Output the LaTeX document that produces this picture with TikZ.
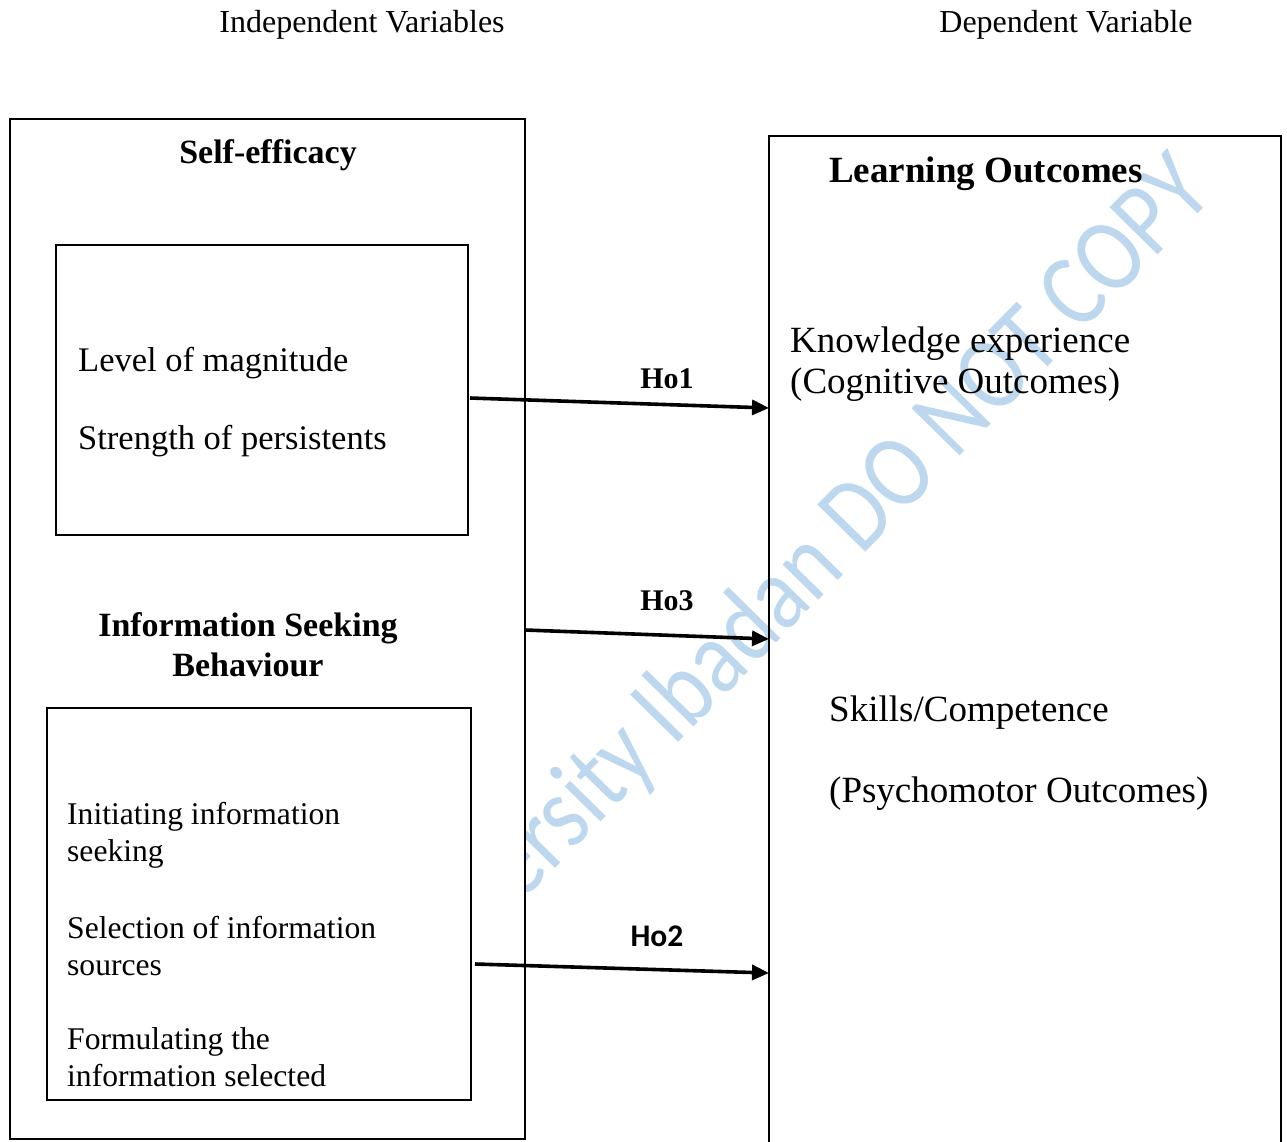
\documentclass[tikz,border=0pt]{standalone}
\usepackage{fontspec}
\setmainfont{Liberation Serif}
\newfontfamily\calfont{Carlito}
\usetikzlibrary{arrows.meta}
\definecolor{wmblue}{RGB}{189,215,238}
\newcommand\szTitle{\fontsize{32}{38}\selectfont}
\newcommand\szHead{\fontsize{34}{40}\selectfont\bfseries}
\newcommand\szHeadR{\fontsize{37}{43}\selectfont\bfseries}
\newcommand\szTop{\fontsize{34.5}{40}\selectfont}
\newcommand\szBot{\fontsize{31.6}{37}\selectfont}
\newcommand\szRight{\fontsize{37}{41}\selectfont}
\newcommand\szHo{\fontsize{30}{34}\selectfont\bfseries}
\newcommand\szHoSans{\calfont\fontsize{31.5}{36}\selectfont\bfseries}
\newcommand\szWm{\calfont\fontsize{89}{100}\selectfont}
\begin{document}
\begin{tikzpicture}[x=1pt,y=-1pt,
  box/.style={draw=black, line width=2pt, fill=white},
  arr/.style={line width=3.6pt, -{Triangle[length=17pt,width=15pt]}},
  txt/.style={inner sep=0pt, anchor=west, align=left},
  ctxt/.style={inner sep=0pt, anchor=center, align=center}]
\useasboundingbox (0,0) rectangle (1287,1141);
\clip (0,0) rectangle (1287,1141);
% watermark
\begin{scope}[shift={(520,904)}, rotate=45.5, yscale=1.18]
  \node[inner sep=0pt, anchor=base west, transform shape, text=wmblue, font=\szWm] (wmark) at (0,0) {ersity Ibadan DO NOT COPY};
\end{scope}
% titles
\node[ctxt, font=\szTitle] (indep) at (362,25) {Independent Variables};
\node[ctxt, font=\szTitle] (dep) at (1066,25) {Dependent Variable};
% left outer box
\draw[box] (10,119) rectangle (525,1139);
\node[ctxt, font=\szHead] (selfeff) at (268,155.5) {Self-efficacy};
% inner top box
\draw[box] (56,245) rectangle (468,535);
\node[txt, font=\szTop] (level) at (78,363.5) {Level of magnitude};
\node[txt, font=\szTop] (strength) at (78,441.5) {Strength of persistents};
% information seeking heading
\node[ctxt, font=\szHead] (isb) at (248,645) {Information Seeking\\Behaviour};
% inner bottom box
\draw[box] (47,708) rectangle (471,1100);
\node[txt, font=\szBot] (init) at (67,835) {Initiating information\\seeking};
\node[txt, font=\szBot] (selsrc) at (67,946) {Selection of information\\sources};
\node[txt, font=\szBot] (form) at (67,1057.5) {Formulating the\\information selected};
% right box (open at bottom)
\draw[line width=2pt] (769,1160) -- (769,136) -- (1281,136) -- (1281,1160);
\node[txt, font=\szHeadR] (lo) at (829,173.5) {Learning Outcomes};
\node[txt, font=\szRight] (know) at (790,364) {Knowledge experience\\(Cognitive Outcomes)};
\node[txt, font=\szRight] (skills) at (829,712.5) {Skills/Competence};
\node[txt, font=\szRight] (psycho) at (829,793.5) {(Psychomotor Outcomes)};
% connector end points
\coordinate (h1s) at (470,398);
\coordinate (h1e) at (769,408);
\coordinate (h3s) at (525,630);
\coordinate (h3e) at (769,639);
\coordinate (h2s) at (475,964);
\coordinate (h2e) at (769,973);
\draw[arr] (h1s) -- (h1e);
\draw[arr] (h3s) -- (h3e);
\draw[arr] (h2s) -- (h2e);
\node[ctxt, font=\szHo] (ho1) at (667,379) {Ho1};
\node[ctxt, font=\szHo] (ho3) at (667,601) {Ho3};
\node[ctxt, font=\szHoSans] (ho2) at (657,936) {Ho2};
\end{tikzpicture}
\end{document}
